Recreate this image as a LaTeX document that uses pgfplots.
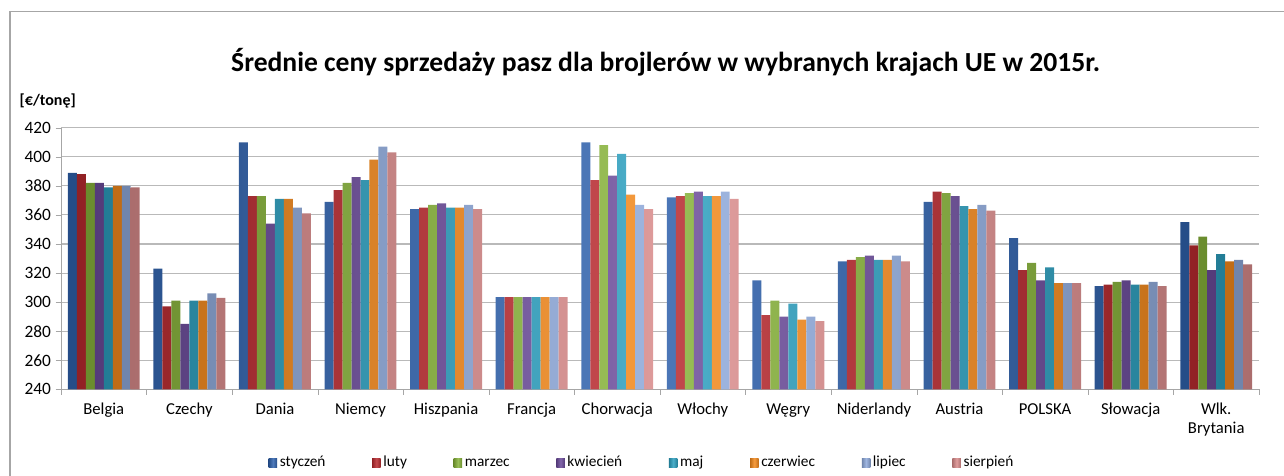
\documentclass[border=0pt]{standalone}
\usepackage{pgfplots}
\pgfplotsset{compat=1.18}
\usepackage{fontspec}
\setmainfont{Carlito}
\definecolor{cA}{HTML}{2F62AE}
\definecolor{cB}{HTML}{BA2A2F}
\definecolor{cC}{HTML}{88B43A}
\definecolor{cD}{HTML}{6C4C9C}
\definecolor{cE}{HTML}{2CA0C0}
\definecolor{cF}{HTML}{F58A1C}
\definecolor{cG}{HTML}{8FAADC}
\definecolor{cH}{HTML}{DB8C8C}
\pgfplotsset{
  mybar/.style={draw=none, left color=#1!78!black, right color=#1!78!black, middle color=#1!85!white},
}
\begin{document}
\begin{tikzpicture}
\path[use as bounding box] (-45.75pt,-64.3pt) rectangle (917.25pt,292pt);
\draw[gray!70, line width=0.8pt] (-38.25pt,-70pt) -- (-38.25pt,283.7pt) -- (925pt,283.7pt);
\begin{axis}[
  at={(0,0)}, anchor=south west,
  scale only axis, width=898.5pt, height=196.2pt,
  ybar=0pt, bar width=0.105,
  xmin=-0.5, xmax=13.5, ymin=240, ymax=420,
  ytick distance=20,
  xtick={0,...,13},
  xticklabels={Belgia,Czechy,Dania,Niemcy,Hiszpania,Francja,Chorwacja,Włochy,Węgry,Niderlandy,Austria,POLSKA,Słowacja,{Wlk.\\Brytania}},
  minor xtick={-0.5,0.5,...,13.5},
  major x tick style={draw=none},
  minor x tick style={gray!70},
  y tick style={gray!70},
  tick align=outside,
  major tick length=4pt, minor tick length=4pt,
  axis x line*=bottom, axis y line*=left,
  axis line style={gray!70, -},
  ymajorgrids, grid style={gray!55, line width=0.8pt},
  xticklabel style={font=\fontsize{12.5}{14}\selectfont, align=center, anchor=north, yshift=-3pt},
  yticklabel style={font=\fontsize{13}{14}\selectfont},
  /pgf/number format/assume math mode=true,
  legend style={at={(436pt,-55.3pt)}, anchor=center, draw=none, fill=none,
    legend columns=8, font=\fontsize{11.5}{13}\selectfont,
    nodes={text height=8pt, text depth=2.5pt},
    /tikz/every even column/.append style={column sep=33pt}},
  legend image code/.code={\fill[#1] (0pt,-3.2pt) rectangle (6.4pt,3.2pt);},
  clip=true,
]
\addplot[mybar=cA] coordinates {(0,389) (1,323) (2,410) (3,369) (4,364) (5,303.5) (6,410) (7,372) (8,315) (9,328) (10,369) (11,344) (12,311) (13,355)};
\addplot[mybar=cB] coordinates {(0,388) (1,297) (2,373) (3,377) (4,365) (5,303.5) (6,384) (7,373) (8,291) (9,329) (10,376) (11,322) (12,312) (13,339)};
\addplot[mybar=cC] coordinates {(0,382) (1,301) (2,373) (3,382) (4,367) (5,303.5) (6,408) (7,375) (8,301) (9,331) (10,375) (11,327) (12,314) (13,345)};
\addplot[mybar=cD] coordinates {(0,382) (1,285) (2,354) (3,386) (4,368) (5,303.5) (6,387) (7,376) (8,290) (9,332) (10,373) (11,315) (12,315) (13,322)};
\addplot[mybar=cE] coordinates {(0,379) (1,301) (2,371) (3,384) (4,365) (5,303.5) (6,402) (7,373) (8,299) (9,329) (10,366) (11,324) (12,312) (13,333)};
\addplot[mybar=cF] coordinates {(0,380) (1,301) (2,371) (3,398) (4,365) (5,303.5) (6,374) (7,373) (8,288) (9,329) (10,364) (11,313) (12,312) (13,328)};
\addplot[mybar=cG] coordinates {(0,380) (1,306) (2,365) (3,407) (4,367) (5,303.5) (6,367) (7,376) (8,290) (9,332) (10,367) (11,313) (12,314) (13,329)};
\addplot[mybar=cH] coordinates {(0,379) (1,303) (2,361) (3,403) (4,364) (5,303.5) (6,364) (7,371) (8,287) (9,328) (10,363) (11,313) (12,311) (13,326)};
\legend{styczeń,luty,marzec,kwiecień,maj,czerwiec,lipiec,sierpień}
\end{axis}
\node[font=\fontsize{20.7}{24}\selectfont\bfseries] at (453.5pt,245.5pt) {Średnie ceny sprzedaży pasz dla brojlerów w wybranych krajach UE w 2015r.};
\node[anchor=west, font=\fontsize{12}{14}\selectfont\bfseries] at (-34.5pt,216.2pt) {[€/tonę]};
\end{tikzpicture}
\end{document}
